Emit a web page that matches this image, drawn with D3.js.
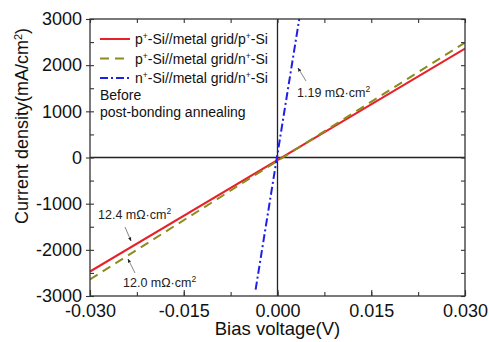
<!DOCTYPE html>
<html>
<head>
<meta charset="utf-8">
<script src="https://cdn.jsdelivr.net/npm/d3@7"></script>
<style>
  body { margin: 0; background: #fff; }
  text { font-family: "Liberation Sans", Arial, sans-serif; }
</style>
</head>
<body>
<div id="chart"></div>
<script>
// data
var biasV = [-0.03, 0.03];
var ppJ = [-2470, 2360];      // p+-Si//metal grid/p+-Si
var pnJ = [-2640, 2490];      // p+-Si//metal grid/n+-Si
var nnV = [-0.0035, 0.0036];  // n+-Si//metal grid/n+-Si
var nnJ = [-2860, 3100];

var xTicks = [-0.03, -0.015, 0, 0.015, 0.03];
var yTicks = [-3000, -2000, -1000, 0, 1000, 2000, 3000];

var seriesNames = ["p+-Si//metal grid/p+-Si", "p+-Si//metal grid/n+-Si", "n+-Si//metal grid/n+-Si"];
var seriesColors = ["#e8202a", "#8c8c1e", "#1f1fe6"];
var seriesDash = [null, "9,6", "8,3,2,3"];

var W = 489, H = 342;
var mLeft = 90, mRight = 465, mTop = 19, mBottom = 296;

var svg = d3.select("#chart").append("svg")
    .attr("width", W).attr("height", H);

var x = d3.scaleLinear().domain([-0.03, 0.03]).range([mLeft, mRight]);
var y = d3.scaleLinear().domain([-3000, 3000]).range([mBottom, mTop]);

svg.append("clipPath").attr("id", "clip")
  .append("rect").attr("x", mLeft).attr("y", mTop)
  .attr("width", mRight - mLeft).attr("height", mBottom - mTop);

// zero lines
svg.append("line").attr("x1", mLeft).attr("x2", mRight)
  .attr("y1", y(0)).attr("y2", y(0)).style("stroke", "#222").style("stroke-width", 1.3);
svg.append("line").attr("x1", x(0)).attr("x2", x(0))
  .attr("y1", mTop).attr("y2", mBottom).style("stroke", "#222").style("stroke-width", 1.3);

// series
var line = d3.line().x(function(d) { return x(d[0]); }).y(function(d) { return y(d[1]); });
var series = [
  d3.zip(biasV, ppJ),
  d3.zip(biasV, pnJ),
  d3.zip(nnV, nnJ)
];
var plot = svg.append("g").attr("clip-path", "url(#clip)");
plot.selectAll(".series")
  .data(series)
  .enter()
  .append("path")
  .attr("class", "series")
  .attr("d", line)
  .style("fill", "none")
  .style("stroke", function(d, i) { return seriesColors[i]; })
  .style("stroke-width", 2)
  .style("stroke-dasharray", function(d, i) { return seriesDash[i]; });

// axes (ticks only, frame drawn separately)
var xMinor = d3.range(-0.03, 0.0301, 0.0075);
var yMinor = d3.range(-3000, 3001, 500);
function hyphen(f) {
  return function(d) { return (d < 0 ? "-" : "") + f(Math.abs(d)); };
}

var bottomAxis = svg.append("g").attr("transform", "translate(0," + mBottom + ")")
  .call(d3.axisTop(x).tickValues(xTicks).tickSize(6).tickFormat(""));
var bottomMinor = svg.append("g").attr("transform", "translate(0," + mBottom + ")")
  .call(d3.axisTop(x).tickValues(xMinor).tickSize(4).tickFormat(""));
var topAxis = svg.append("g").attr("transform", "translate(0," + mTop + ")")
  .call(d3.axisBottom(x).tickValues(xMinor).tickSize(4).tickFormat(""));
var leftAxis = svg.append("g").attr("transform", "translate(" + mLeft + ",0)")
  .call(d3.axisLeft(y).tickValues(yTicks).tickSize(4).tickPadding(4)
        .tickFormat(hyphen(d3.format("d"))));
var leftMinor = svg.append("g").attr("transform", "translate(" + mLeft + ",0)")
  .call(d3.axisRight(y).tickValues(yMinor).tickSize(4).tickFormat(""));
var rightAxis = svg.append("g").attr("transform", "translate(" + mRight + ",0)")
  .call(d3.axisLeft(y).tickValues(yMinor).tickSize(4).tickFormat(""));

// x tick labels below the axis
var xAxisLabels = svg.append("g").attr("transform", "translate(0," + mBottom + ")")
  .call(d3.axisBottom(x).tickValues(xTicks).tickSize(0).tickPadding(8)
        .tickFormat(hyphen(d3.format(".3f"))));

[bottomAxis, bottomMinor, topAxis, leftAxis, leftMinor, rightAxis, xAxisLabels].forEach(function(g) {
  g.select(".domain").remove();
});
svg.selectAll(".tick line").style("stroke", "#333").style("stroke-width", 1.1);
svg.selectAll(".tick text").style("font-size", "18px").style("fill", "#111")
  .style("font-family", "'Liberation Sans', Arial, sans-serif");

// frame
svg.append("rect").attr("x", mLeft).attr("y", mTop)
  .attr("width", mRight - mLeft).attr("height", mBottom - mTop)
  .style("fill", "none").style("stroke", "#333").style("stroke-width", 1.3);

// axis titles
svg.append("text")
  .attr("x", (mLeft + mRight) / 2).attr("y", 335)
  .attr("text-anchor", "middle")
  .style("font-size", "18.5px").style("fill", "#111")
  .text("Bias voltage(V)");

var yt = svg.append("text")
  .attr("transform", "translate(28,126) rotate(-90)")
  .attr("text-anchor", "middle")
  .style("font-size", "18px").style("fill", "#111");
yt.append("tspan").text("Current density(mA/cm");
yt.append("tspan").attr("baseline-shift", "super").style("font-size", "11px").text("2");
yt.append("tspan").text(")");

// legend
var legend = svg.append("g").selectAll(".leg")
  .data(seriesNames)
  .enter()
  .append("g")
  .attr("class", "leg")
  .attr("transform", function(d, i) { return "translate(100," + (39 + i * 19.5) + ")"; });
legend.append("line")
  .attr("x1", 0).attr("x2", 30)
  .style("stroke", function(d, i) { return seriesColors[i]; })
  .style("stroke-width", 2)
  .style("stroke-dasharray", function(d, i) { return seriesDash[i]; });
var legText = legend.append("text")
  .attr("x", 35).attr("y", 5)
  .style("font-size", "14px").style("fill", "#111");
legText.each(function(d) {
  var t = d3.select(this);
  var parts = d.split("+");
  parts.forEach(function(p, k) {
    t.append("tspan").text(p);
    if (k < parts.length - 1) {
      t.append("tspan").attr("baseline-shift", "super").style("font-size", "8.5px").text("+");
    }
  });
});

svg.append("text").attr("x", 100).attr("y", 100)
  .style("font-size", "14px").style("fill", "#111").text("Before");
svg.append("text").attr("x", 100).attr("y", 117)
  .style("font-size", "14px").style("fill", "#111").text("post-bonding annealing");

// annotations
var notes = [
  { label: "1.19 mΩ·cm", tx: 297, ty: 97, ax1: 306, ay1: 81, ax2: 298, ay2: 68 },
  { label: "12.4 mΩ·cm", tx: 98, ty: 219, ax1: 125, ay1: 227, ax2: 131, ay2: 241 },
  { label: "12.0 mΩ·cm", tx: 123, ty: 287, ax1: 135, ay1: 273, ax2: 128, ay2: 259 }
];

svg.append("defs").append("marker")
  .attr("id", "arrow").attr("viewBox", "0 0 10 10")
  .attr("refX", 9).attr("refY", 5)
  .attr("markerWidth", 5).attr("markerHeight", 5)
  .attr("orient", "auto")
  .append("path").attr("d", "M0,1L10,5L0,9Z").style("fill", "#222");

notes.forEach(function(n) {
  svg.append("line")
    .attr("x1", n.ax1).attr("y1", n.ay1).attr("x2", n.ax2).attr("y2", n.ay2)
    .style("stroke", "#666").style("stroke-width", 0.8)
    .attr("marker-end", "url(#arrow)");
  var t = svg.append("text").attr("x", n.tx).attr("y", n.ty)
    .style("font-size", "12.5px").style("fill", "#222");
  t.append("tspan").text(n.label);
  t.append("tspan").attr("baseline-shift", "super").style("font-size", "8.5px").text("2");
});
</script>
</body>
</html>
